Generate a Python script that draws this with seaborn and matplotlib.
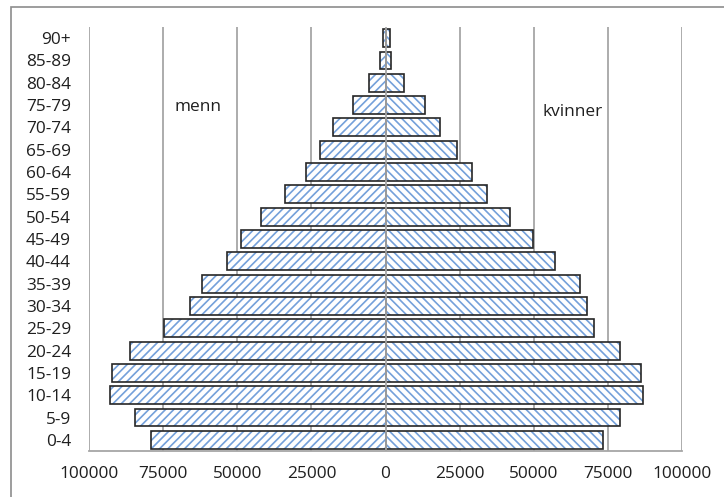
import matplotlib
matplotlib.use("Agg")
import matplotlib.pyplot as plt
import seaborn as sns
import pandas as pd
from matplotlib.patches import Rectangle

# ---- data ----
age_groups = ["0-4", "5-9", "10-14", "15-19", "20-24", "25-29", "30-34", "35-39",
              "40-44", "45-49", "50-54", "55-59", "60-64", "65-69", "70-74",
              "75-79", "80-84", "85-89", "90+"]
menn = [79100, 84500, 93000, 92300, 86200, 74700, 65900, 61900, 53400, 48700,
        41900, 33800, 26700, 22000, 17600, 10800, 5700, 1700, 700]
kvinner = [73400, 79100, 86900, 86200, 79100, 70300, 68000, 65600, 57100, 49700,
           41900, 34200, 29100, 24000, 18300, 13200, 6400, 2000, 1400]
x_ticks = [-100000, -75000, -50000, -25000, 0, 25000, 50000, 75000, 100000]
x_tick_labels = ["100000", "75000", "50000", "25000", "0", "25000", "50000", "75000", "100000"]
label_menn = "menn"
label_kvinner = "kvinner"

order = age_groups[::-1]
df = pd.DataFrame({"alder": age_groups,
                   "menn": [-v for v in menn],
                   "kvinner": kvinner})

sns.set_style("white")
plt.rcParams["font.family"] = ["Open Sans", "DejaVu Sans"]
plt.rcParams["hatch.linewidth"] = 1.2

fig = plt.figure(figsize=(7.24, 4.97), dpi=100)
ax = fig.add_axes([89 / 724, 46 / 497, 593 / 724, 424 / 497])

hatch_col = "#74a0da"
edge_col = "#262626"
hatches = {"menn": "////", "kvinner": "\\\\\\\\"}
for col in ["menn", "kvinner"]:
    sns.barplot(data=df, x=col, y="alder", order=order, orient="y", ax=ax,
                width=0.8, facecolor="white", edgecolor=hatch_col, linewidth=0,
                hatch=hatches[col], zorder=2)
    sns.barplot(data=df, x=col, y="alder", order=order, orient="y", ax=ax,
                width=0.8, facecolor="none", edgecolor=edge_col, linewidth=1.2,
                zorder=3)

ax.set_xlim(-100000, 100000)
ax.set_ylim(len(order) - 0.5, -0.5)
ax.set_xlabel("")
ax.set_ylabel("")

grid_col = "#a6a6a6"
for xv in x_ticks:
    ax.axvline(xv, color=grid_col, linewidth=1.3, zorder=1 if xv != 0 else 4)

ax.set_xticks(x_ticks)
ax.set_xticklabels(x_tick_labels)
ax.tick_params(axis="x", length=0, pad=11, labelsize=12.4, labelcolor="#1f1f1f")
ax.tick_params(axis="y", length=0, pad=13, labelsize=12.4, labelcolor="#1f1f1f")
ax.set_xticks([-100000, 100000], minor=True)
ax.tick_params(axis="x", which="minor", length=5, width=1.3, color=grid_col, direction="out")

for s in ["top", "left", "right"]:
    ax.spines[s].set_visible(False)
ax.spines["bottom"].set_color(grid_col)
ax.spines["bottom"].set_linewidth(1.3)

ax.text(-71000, 3.09, label_menn, ha="left", va="center", fontsize=12.4, color="#1f1f1f")
ax.text(53000, 3.31, label_kvinner, ha="left", va="center", fontsize=12.4, color="#1f1f1f")

fig.patches.append(Rectangle((11 / 724, -0.2), 2.0, (497 - 7) / 497 + 0.2,
                             transform=fig.transFigure, fill=False,
                             edgecolor="#8c8c8c", linewidth=1.2))

fig.savefig("out.png", dpi=100)
